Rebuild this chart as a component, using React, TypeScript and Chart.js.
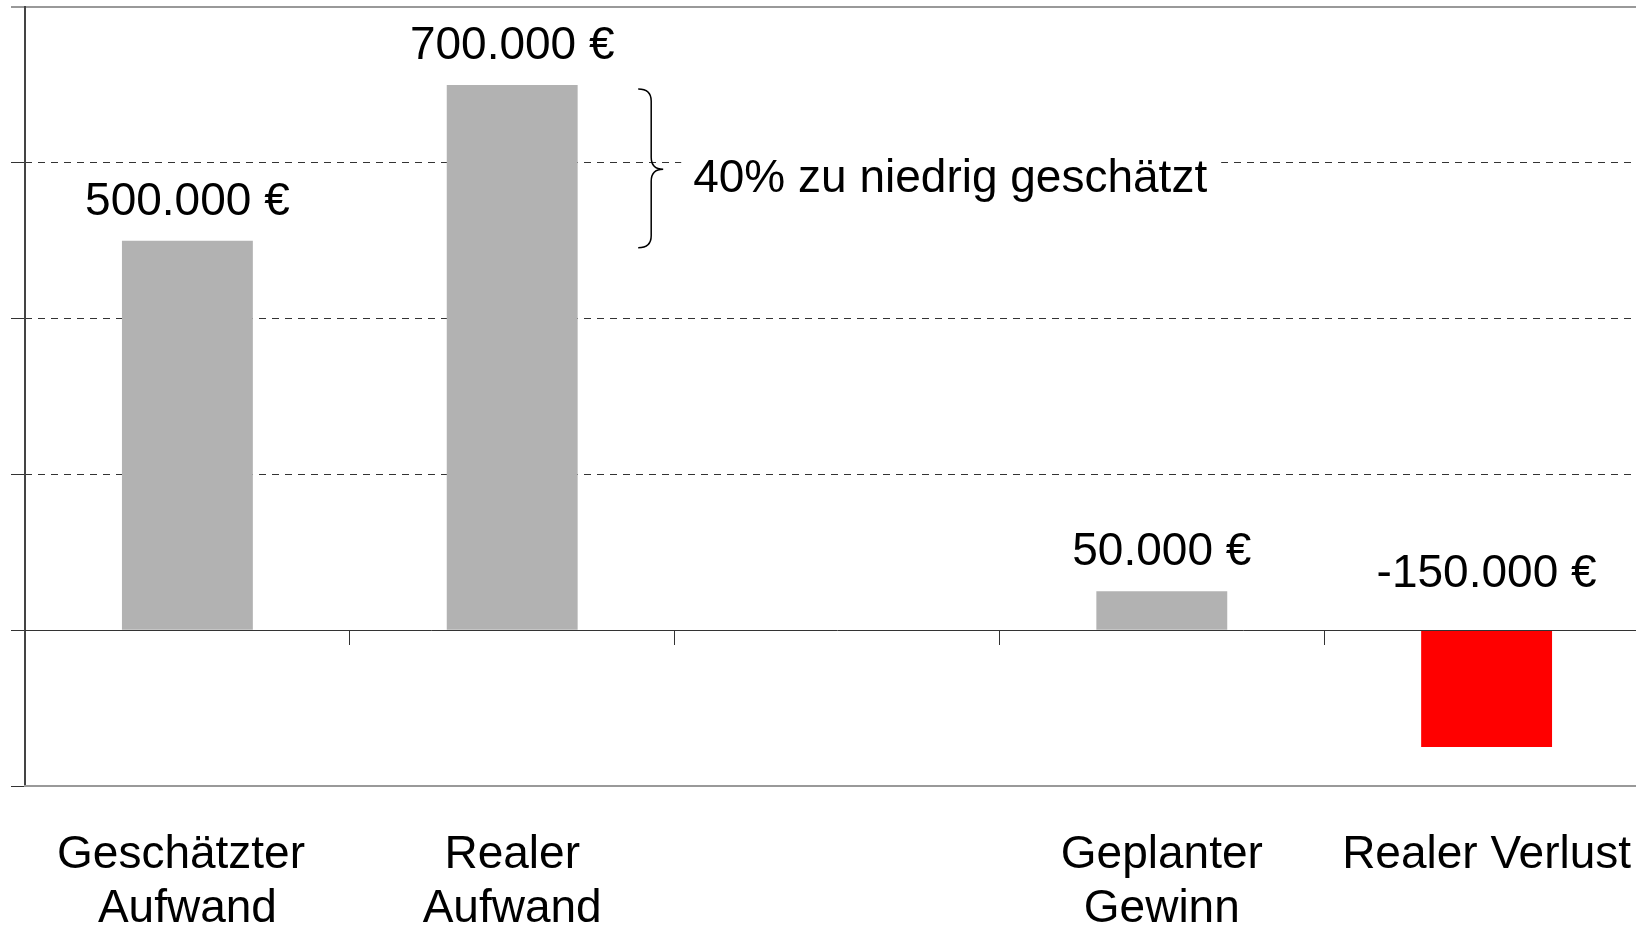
import React, { useEffect, useRef } from "react";
import { Chart, registerables } from "chart.js";

Chart.register(...registerables);

const FONT = "'Liberation Sans', Arial, Helvetica, sans-serif";

const categories: (string | string[])[] = [
  ["Geschätzter ", "Aufwand"],
  ["Realer", "Aufwand"],
  "",
  ["Geplanter", "Gewinn"],
  "Realer Verlust",
];
const values: (number | null)[] = [500000, 700000, null, 50000, -150000];
const barColors = ["#b2b2b2", "#b2b2b2", "#b2b2b2", "#b2b2b2", "#ff0000"];
const yMin = -200000;
const yMax = 800000;
const yStep = 200000;
const annotationText = "40% zu niedrig geschätzt";
const braceFrom = 700000;
const braceTo = 500000;

function fmt(v: number): string {
  const s = Math.abs(v).toString().replace(/\B(?=(\d{3})+(?!\d))/g, ".");
  return (v < 0 ? "-" : "") + s + " €";
}

const labelsPlugin = {
  id: "valueLabels",
  afterDatasetsDraw(chart: any) {
    const { ctx } = chart;
    const y = chart.scales.y;
    const x = chart.scales.x;
    const meta = chart.getDatasetMeta(0);
    ctx.save();
    ctx.font = `46px ${FONT}`;
    ctx.fillStyle = "#000";
    ctx.textAlign = "center";
    ctx.textBaseline = "alphabetic";
    meta.data.forEach((el: any, i: number) => {
      const v = values[i];
      if (v == null) return;
      const base = y.getPixelForValue(Math.max(v, 0));
      const yy = v >= 0 ? base - 26 : base - 43;
      ctx.fillText(fmt(v), el.x, yy);
    });

    // brace
    const top = y.getPixelForValue(braceFrom) + 4;
    const bot = y.getPixelForValue(braceTo) + 7;
    const mid = (top + bot) / 2 + 1;
    const xl = x.getPixelForValue(1) + 126;
    const xs = xl + 13;
    const xt = xs + 12;
    const r = 12;
    ctx.beginPath();
    ctx.moveTo(xl, top);
    ctx.quadraticCurveTo(xs, top, xs, top + r);
    ctx.lineTo(xs, mid - r);
    ctx.quadraticCurveTo(xs, mid, xt, mid);
    ctx.quadraticCurveTo(xs, mid, xs, mid + r);
    ctx.lineTo(xs, bot - r);
    ctx.quadraticCurveTo(xs, bot, xl, bot);
    ctx.lineWidth = 1.5;
    ctx.strokeStyle = "#000";
    ctx.stroke();

    // annotation text with white background
    const tx = xt + 30;
    const ty = y.getPixelForValue(600000) + 29;
    ctx.textAlign = "left";
    const w = ctx.measureText(annotationText).width;
    ctx.fillStyle = "#fff";
    ctx.fillRect(tx - 12, ty - 45, w + 26, 60);
    ctx.fillStyle = "#000";
    ctx.fillText(annotationText, tx, ty);
    ctx.restore();
  },
};

export default function App() {
  const ref = useRef<HTMLCanvasElement | null>(null);
  useEffect(() => {
    if (!ref.current) return;
    const chart = new Chart(ref.current, {
      type: "bar",
      data: {
        labels: categories as any,
        datasets: [
          {
            data: values as any,
            backgroundColor: barColors,
            borderWidth: 0,
            categoryPercentage: 1,
            barPercentage: 0.403,
            xAxisID: "x",
            yAxisID: "y",
          },
        ],
      },
      options: {
        animation: false,
        responsive: false,
        maintainAspectRatio: false,
        devicePixelRatio: 1,
        layout: { padding: { left: 11, top: 7, right: 51, bottom: 9 } },
        plugins: { legend: { display: false }, tooltip: { enabled: false } },
        scales: {
          y: {
            type: "linear",
            position: "left",
            min: yMin,
            max: yMax,
            ticks: { display: false, stepSize: yStep },
            grid: {
              drawOnChartArea: true,
              drawTicks: true,
              tickLength: 14,
              color: (c: any) => (c.tick && c.tick.value === yMax ? "#999999" : "rgba(0,0,0,0)"),
              lineWidth: (c: any) => (c.tick && c.tick.value === yMax ? 2 : 1),
              tickColor: "#333333",
              tickWidth: 1,
            },
            border: { display: true, color: "#444444", width: 2 },
          },
          y2: {
            type: "linear",
            position: "left",
            min: yMin,
            max: yMax,
            ticks: { display: false, stepSize: yStep },
            grid: {
              drawTicks: false,
              color: (c: any) =>
                c.tick && c.tick.value > 0 && c.tick.value < yMax ? "#333333" : "rgba(0,0,0,0)",
              lineWidth: 1,
            },
            border: { display: false, dash: [7, 6] },
          },
          x: {
            type: "category",
            position: { y: 0 } as any,
            offset: true,
            ticks: { display: false },
            grid: {
              offset: true,
              drawOnChartArea: false,
              drawTicks: true,
              tickLength: 14,
              color: "#333333",
              lineWidth: 1,
            },
            border: { display: true, color: "#333333", width: 1, z: 1 },
          },
          x2: {
            type: "category",
            position: "bottom",
            offset: true,
            grid: { display: false },
            border: { display: true, color: "#999999", width: 2 },
            ticks: {
              color: "#000",
              padding: 34,
              maxRotation: 0,
              autoSkip: false,
              font: { family: FONT, size: 46, lineHeight: 1.184 },
            },
          },
        },
      } as any,
      plugins: [labelsPlugin],
    });
    return () => chart.destroy();
  }, []);
  return (
    <div
      style={{
        position: "fixed",
        left: 0,
        top: 0,
        width: 1636,
        height: 927,
        overflow: "hidden",
        background: "#fff",
      }}
    >
      <canvas ref={ref} width={1700} height={980} style={{ display: "block" }} />
    </div>
  );
}
